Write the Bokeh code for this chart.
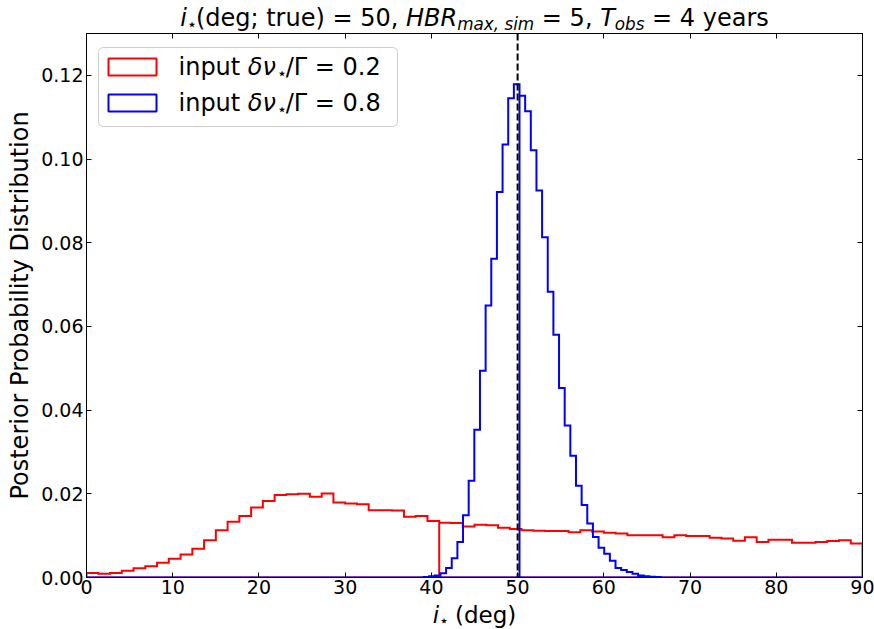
import numpy as np
from bokeh.plotting import figure
from bokeh.layouts import column
from bokeh.models import (Range1d, LinearAxis, FixedTicker, PrintfTickFormatter,
                          CustomJSTickFormatter, Span, Label, BoxAnnotation, ColumnDataSource)
from bokeh.embed import file_html
from bokeh.resources import INLINE

# ---------------- data ----------------
x_ticks = [0, 10, 20, 30, 40, 50, 60, 70, 80, 90]
y_ticks = [0.00, 0.02, 0.04, 0.06, 0.08, 0.10, 0.12]
true_inclination = 50

# red: input dnu/Gamma = 0.2, 66 bins over 0..90 deg
red_lo, red_hi, red_n_bins = 0.0, 90.0, 66
red_values = [
    0.0011, 0.0009, 0.0011, 0.0016, 0.0022, 0.0027, 0.0035, 0.0045, 0.0055, 0.0069,
    0.0089, 0.0113, 0.0133, 0.0147, 0.0167, 0.0183, 0.0197, 0.0199, 0.0200, 0.0193,
    0.0201, 0.0179, 0.0177, 0.0175, 0.0161, 0.0161, 0.0160, 0.0145, 0.0147, 0.0135,
    0.0131, 0.0130, 0.0122, 0.0126, 0.0125, 0.0119, 0.0116, 0.0113, 0.0112, 0.0111,
    0.0111, 0.0108, 0.0113, 0.0110, 0.0107, 0.0105, 0.0101, 0.0101, 0.0101, 0.0096,
    0.0101, 0.0099, 0.0099, 0.0095, 0.0093, 0.0088, 0.0096, 0.0085, 0.0090, 0.0090,
    0.0083, 0.0083, 0.0085, 0.0087, 0.0089, 0.0081,
]
red_wrap_index = 30

# blue: input dnu/Gamma = 0.8
blue_first_edge, blue_bin_width = 39.085, 0.655
blue_values = [
    0.0001, 0.0003, 0.0005, 0.0010, 0.0023, 0.0046, 0.0085, 0.0149, 0.0231, 0.0353,
    0.0494, 0.0650, 0.0762, 0.0921, 0.1035, 0.1145, 0.1179, 0.1151, 0.1114, 0.1021,
    0.0925, 0.0813, 0.0683, 0.0580, 0.0453, 0.0363, 0.0291, 0.0219, 0.0173, 0.0129,
    0.0097, 0.0071, 0.0057, 0.0040, 0.0023, 0.0018, 0.0013, 0.0009, 0.0005, 0.0003,
    0.0002, 0.0001,
]
blue_wrap_index = 17
x_lo, x_hi = 0.0, 90.0
legend_labels = ["0.2", "0.8"]
legend_colors = ["#ff0000", "#0000ff"]


def wrapped_step(edges, vals, k, lo, hi):
    n = len(vals)
    xs, ys = [edges[k]], [0.0]
    for i in range(k, n):
        xs += [edges[i], edges[i + 1]]
        ys += [vals[i], vals[i]]
    xs += [edges[n], hi, lo, edges[0]]
    ys += [0.0, 0.0, 0.0, 0.0]
    for i in range(0, k):
        xs += [edges[i], edges[i + 1]]
        ys += [vals[i], vals[i]]
    xs += [edges[k]]
    ys += [0.0]
    return xs, ys


red_edges = list(np.linspace(red_lo, red_hi, red_n_bins + 1))
blue_edges = [blue_first_edge + blue_bin_width * i for i in range(len(blue_values) + 1)]
rx, ry = wrapped_step(red_edges, red_values, red_wrap_index, x_lo, x_hi)
bx, by = wrapped_step(blue_edges, blue_values, blue_wrap_index, x_lo, x_hi)

# ---------------- layout constants (canvas px) ----------------
W, H = 874, 629
FL, FR, FT, FB = 86, 862, 33, 577
BOTTOM_BORDER = 25
TITLE_H = FT
MAIN_H = (FB - FT) + BOTTOM_BORDER
XLAB_H = H - TITLE_H - MAIN_H
FONT = "DejaVu Sans"
MID = 0.346  # baseline sits this many em below the middle of the text box

ADV = {' ': 651, '(': 799, ')': 799, ',': 651, ';': 690, '=': 1716, '/': 690, '.': 651,
       'a': 1255, 'b': 1300, 'd': 1300, 'e': 1260, 'g': 1300, 'i': 569, 'm': 1995,
       'n': 1298, 'o': 1253, 'p': 1300, 'r': 842, 's': 1067, 't': 803, 'u': 1298,
       'x': 1212, 'y': 1212, 'H': 1540, 'B': 1405, 'R': 1423, 'T': 1251,
       'Γ': 1141, 'δ': 1253, 'ν': 1212, '⋆': 1100}


def tw(txt, size):
    return sum(ADV.get(c, 1303) for c in txt) / 2048.0 * size


def run_width(pieces):
    return sum(tw(t, s) for t, s, _, _ in pieces)


def text_run(fig, x0, base_y, pieces, to_x, to_y):
    """Place text pieces left to right; x0/base_y (baseline) in canvas px."""
    x = x0
    for t, s, style, dy in pieces:
        lead = len(t) - len(t.lstrip(" "))
        xs = x + tw(t[:lead], s)
        fig.add_layout(Label(x=to_x(xs), y=to_y(base_y + dy - MID * s),
                             x_units="screen", y_units="screen",
                             text=t.strip(" "), text_font=FONT, text_font_size=f"{s:.1f}px",
                             text_font_style=style, text_color="black",
                             text_baseline="middle", text_align="left"))
        x += tw(t, s)


def blank_fig(h):
    f = figure(width=W, height=h, output_backend="svg", toolbar_location=None,
               title_location=None,
               x_range=Range1d(0, 90), y_range=Range1d(0, 1),
               x_axis_type=None, y_axis_type=None,
               min_border_left=FL, min_border_right=W - FR,
               min_border_top=0, min_border_bottom=0)
    f.outline_line_color = None
    f.background_fill_color = "white"
    f.border_fill_color = "white"
    return f


F = 24
S = F * 0.7
cx = (FL + FR) / 2

# ---------------- title strip ----------------
pt = blank_fig(TITLE_H)
title_pieces = [("i", F, "italic", 0), ("⋆", S, "normal", 3),
                ("(deg; true) = 50, ", F, "normal", 0),
                ("HBR", F, "italic", 0), ("max, sim", S, "italic", 3),
                (" = 5, ", F, "normal", 0),
                ("T", F, "italic", 0), ("obs", S, "italic", 3),
                (" = 4 years", F, "normal", 0)]
text_run(pt, cx - run_width(title_pieces) / 2, 26, title_pieces,
         lambda px: px - FL, lambda py: TITLE_H - py)

# ---------------- main plot ----------------
p = figure(width=W, height=MAIN_H, output_backend="svg", toolbar_location=None,
           title_location=None,
           x_range=Range1d(0, 90), y_range=Range1d(0, 0.13),
           min_border_left=FL, min_border_right=W - FR,
           min_border_top=0, min_border_bottom=BOTTOM_BORDER)
p.background_fill_color = "white"
p.border_fill_color = "white"
p.outline_line_color = "black"
p.outline_line_width = 1
p.grid.visible = False

for ax in (p.xaxis[0], p.yaxis[0]):
    ax.major_tick_in = 5
    ax.major_tick_out = 0
    ax.minor_tick_in = 0
    ax.minor_tick_out = 0
    ax.axis_line_color = "black"
    ax.major_tick_line_color = "black"
    ax.major_label_text_font = FONT
    ax.major_label_text_font_size = "19px"
    ax.major_label_text_color = "black"
    ax.major_label_standoff = 3
p.xaxis.major_label_standoff = 2

p.xaxis.ticker = FixedTicker(ticks=x_ticks)
p.yaxis.ticker = FixedTicker(ticks=y_ticks)
p.yaxis.formatter = PrintfTickFormatter(format="%.2f")
p.yaxis.axis_label = "Posterior Probability Distribution"
p.yaxis.axis_label_text_font = FONT
p.yaxis.axis_label_text_font_size = "24px"
p.yaxis.axis_label_text_font_style = "normal"
p.yaxis.axis_label_text_color = "black"
p.yaxis.axis_label_standoff = 4

for loc, tk in (("above", x_ticks), ("right", y_ticks)):
    ax = LinearAxis(ticker=FixedTicker(ticks=tk), major_tick_in=5, major_tick_out=0,
                    minor_tick_in=0, minor_tick_out=0,
                    formatter=CustomJSTickFormatter(code="return ''"),
                    major_label_text_font_size="1px",
                    major_label_standoff=0, axis_line_color="black")
    p.add_layout(ax, loc)

p.line(x="x", y="y", source=ColumnDataSource(dict(x=rx, y=ry)),
       line_color="#ff0000", line_width=2, line_join="miter")
p.line(x="x", y="y", source=ColumnDataSource(dict(x=bx, y=by)),
       line_color="#0000ff", line_width=2, line_join="miter")
p.add_layout(Span(location=true_inclination, dimension="height", line_color="black",
                  line_width=2, line_dash="7 3"))

# frame-relative screen coordinates from canvas px
fx = lambda px: px - FL
fy = lambda py: FB - py

p.add_layout(BoxAnnotation(left=fx(98), right=fx(397), top=fy(47), bottom=fy(126),
                           left_units="screen", right_units="screen",
                           top_units="screen", bottom_units="screen",
                           fill_color="white", fill_alpha=0.8, line_color="#cccccc",
                           line_alpha=1, line_width=1, border_radius=5))
for i, (lab, col) in enumerate(zip(legend_labels, legend_colors)):
    top = 58 + 36 * i
    p.add_layout(BoxAnnotation(left=fx(108), right=fx(156), top=fy(top), bottom=fy(top + 17),
                               left_units="screen", right_units="screen",
                               top_units="screen", bottom_units="screen",
                               fill_alpha=0, line_color=col, line_alpha=1, line_width=2))
    pieces = [("input ", F, "normal", 0), ("δν", F, "italic", 0), ("⋆", S, "normal", 3.5),
              ("/Γ", F, "normal", 0), (" = " + lab, F, "normal", 0)]
    text_run(p, 178, top + 17, pieces, fx, fy)

# ---------------- x-axis label strip ----------------
pxl = blank_fig(XLAB_H)
FX = 23
xlab_pieces = [("i", FX, "italic", 0), ("⋆", FX * 0.7, "normal", 2.5), (" (deg)", FX, "normal", 0)]
text_run(pxl, cx - run_width(xlab_pieces) / 2, XLAB_H - 6.2, xlab_pieces,
         lambda px: px - FL, lambda py: XLAB_H - py)

layout = column(pt, p, pxl, spacing=0)
open("out.html", "w").write(file_html(layout, INLINE))
